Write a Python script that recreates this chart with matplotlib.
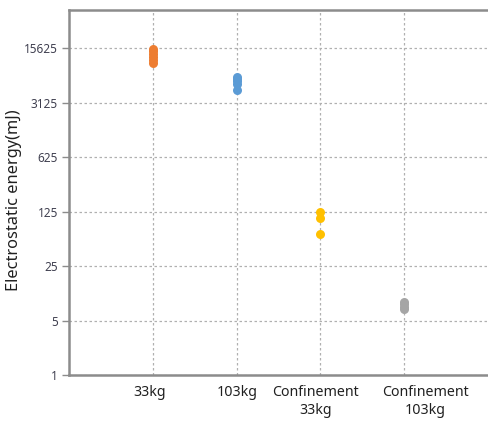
import numpy as np
import matplotlib
matplotlib.use("Agg")
import matplotlib.pyplot as plt
from matplotlib.ticker import FixedLocator, NullLocator
from matplotlib.transforms import ScaledTranslation

plt.rcParams['font.family'] = ['Noto Sans', 'DejaVu Sans']

# categories and values (mJ)
categories = ["33kg", "103kg", "Confinement\n33kg", "Confinement\n103kg"]
energy_33kg = [15200, 14200, 13200, 12200, 11200, 10000]
energy_103kg = [6700, 6300, 5900, 5500, 4500]
energy_conf_33kg = [123, 104, 64]
energy_conf_103kg = [8.6, 8.1, 7.5, 7.0]
series = [energy_33kg, energy_103kg, energy_conf_33kg, energy_conf_103kg]
colors = ["#ED7D31", "#5B9BD5", "#FFC000", "#A5A5A5"]
yticks = [1, 5, 25, 125, 625, 3125, 15625]

fig = plt.figure(figsize=(4.88, 4.21), dpi=100)
ax = fig.add_axes([0.1414, 0.109, 0.8586, 0.867])

for i, (vals, c) in enumerate(zip(series, colors)):
    ax.scatter([i + 1] * len(vals), vals, s=42, color=c, zorder=3, linewidths=0)

ax.set_yscale('log', base=5)
ax.set_ylim(1, 5 ** 6.7)
ax.set_xlim(0, 5)
ax.yaxis.set_major_locator(FixedLocator(yticks))
ax.yaxis.set_minor_locator(NullLocator())
ax.set_yticklabels([str(t) for t in yticks])
ax.set_xticks([1, 2, 3, 4])
ax.set_xticklabels(categories)

ax.grid(True, color="#b0b0b0", linestyle=(0, (2, 2)), linewidth=0.9, zorder=0)
ax.set_axisbelow(True)

for side in ['left', 'bottom', 'top']:
    ax.spines[side].set_color("#8c8c8c")
    ax.spines[side].set_linewidth(1.8)
ax.spines['right'].set_visible(False)

ax.tick_params(axis='y', length=5, width=1, color="#8c8c8c", labelsize=8.5,
               labelcolor="#404050", pad=3)
ax.tick_params(axis='x', length=0, labelsize=10.2, labelcolor="#202020", pad=7)

# the labels in the original sit a little off their gridlines
shifts = [-3, 1, -5, 21]
for lbl, dx in zip(ax.get_xticklabels(), shifts):
    lbl.set_linespacing(1.3)
    lbl.set_transform(lbl.get_transform() + ScaledTranslation(dx / 100, 0, fig.dpi_scale_trans))

ax.set_ylabel("Electrostatic energy(mJ)", fontsize=11.8, color="#202020")
ax.yaxis.set_label_coords(-0.112, 0.479)

fig.savefig("out.png", dpi=100)
